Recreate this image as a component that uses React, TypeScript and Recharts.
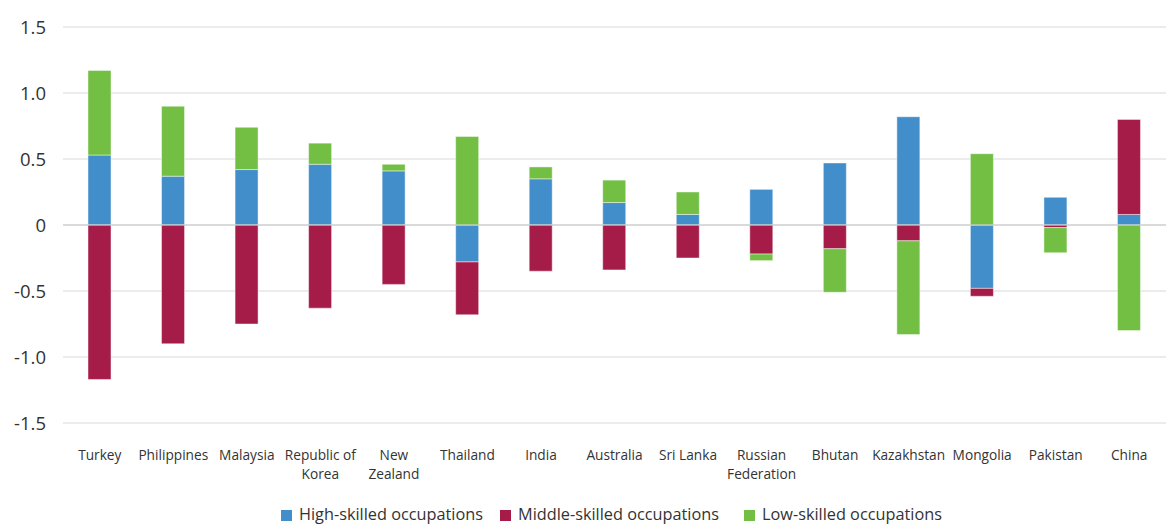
import { Bar, BarChart, CartesianGrid, Legend, ReferenceLine, XAxis, YAxis } from "recharts";

const categories = [
  "Turkey",
  "Philippines",
  "Malaysia",
  "Republic of\nKorea",
  "New\nZealand",
  "Thailand",
  "India",
  "Australia",
  "Sri Lanka",
  "Russian\nFederation",
  "Bhutan",
  "Kazakhstan",
  "Mongolia",
  "Pakistan",
  "China",
];

const highSkilled = [0.53, 0.37, 0.42, 0.46, 0.41, -0.28, 0.35, 0.17, 0.08, 0.27, 0.47, 0.82, -0.48, 0.21, 0.08];
const middleSkilled = [-1.17, -0.9, -0.75, -0.63, -0.45, -0.4, -0.35, -0.34, -0.25, -0.22, -0.18, -0.12, -0.06, -0.02, 0.72];
const lowSkilled = [0.64, 0.53, 0.32, 0.16, 0.05, 0.67, 0.09, 0.17, 0.17, -0.05, -0.33, -0.71, 0.54, -0.19, -0.8];

const yTicks = [-1.5, -1, -0.5, 0, 0.5, 1, 1.5];

const FONT = "'Open Sans', sans-serif";
const TEXT = "#333";

const series = [
  { key: "high", name: "High-skilled occupations", color: "#428ecb", gap: 17 },
  { key: "middle", name: "Middle-skilled occupations", color: "#a51c48", gap: 25 },
  { key: "low", name: "Low-skilled occupations", color: "#72bf44", gap: 0 },
];

const data = categories.map((c, i) => ({
  country: c,
  high: highSkilled[i],
  middle: middleSkilled[i],
  low: lowSkilled[i],
}));

function CountryTick({ x, y, payload }: any) {
  const lines = String(payload.value).split("\n");
  return (
    <text x={x} y={y} textAnchor="middle" fill={TEXT} fontSize={13.7} fontFamily={FONT}>
      {lines.map((l, i) => (
        <tspan key={i} x={x} dy={i === 0 ? 37 : 19}>
          {l}
        </tspan>
      ))}
    </text>
  );
}

function SkillLegend() {
  return (
    <div style={{ height: 35, paddingTop: 14, boxSizing: "border-box", display: "flex", fontFamily: FONT, fontSize: 16.3, color: TEXT, lineHeight: "20px" }}>
      {series.map((s) => (
        <div key={s.key} style={{ display: "flex", alignItems: "center", marginRight: s.gap }}>
          <span style={{ width: 11, height: 11, background: s.color, marginRight: 7, marginTop: 3 }} />
          <span>{s.name}</span>
        </div>
      ))}
    </div>
  );
}

export default function App() {
  return (
    <div style={{ position: "absolute", left: 0, top: 0, background: "#fff" }}>
      <BarChart
        width={1166}
        height={524}
        data={data}
        stackOffset="sign"
        barSize={23}
        margin={{ top: 27, right: 0, left: 0, bottom: 0 }}
      >
        <CartesianGrid vertical={false} stroke="#d9d9d9" strokeWidth={1} />
        <XAxis
          dataKey="country"
          axisLine={false}
          tickLine={false}
          tickSize={0}
          tickMargin={0}
          height={66}
          interval={0}
          tick={<CountryTick />}
        />
        <YAxis
          domain={[-1.5, 1.5]}
          ticks={yTicks}
          width={63}
          axisLine={false}
          tickLine={false}
          tickSize={0}
          tickMargin={17}
          tick={{ fontSize: 18.5, fill: TEXT, fontFamily: FONT }}
          tickFormatter={(v: number) => (v === 0 ? "0" : v.toFixed(1))}
        />
        <ReferenceLine y={0} stroke="#c8c8c8" strokeWidth={1} />
        {series.map((s) => (
          <Bar
            key={s.key}
            dataKey={s.key}
            name={s.name}
            stackId="a"
            fill={s.color}
            stroke="rgba(255,255,255,0.45)"
            strokeWidth={1}
            isAnimationActive={false}
          />
        ))}
        <Legend
          verticalAlign="bottom"
          content={<SkillLegend />}
          wrapperStyle={{ left: 281, width: "auto", bottom: 0 }}
        />
      </BarChart>
    </div>
  );
}
